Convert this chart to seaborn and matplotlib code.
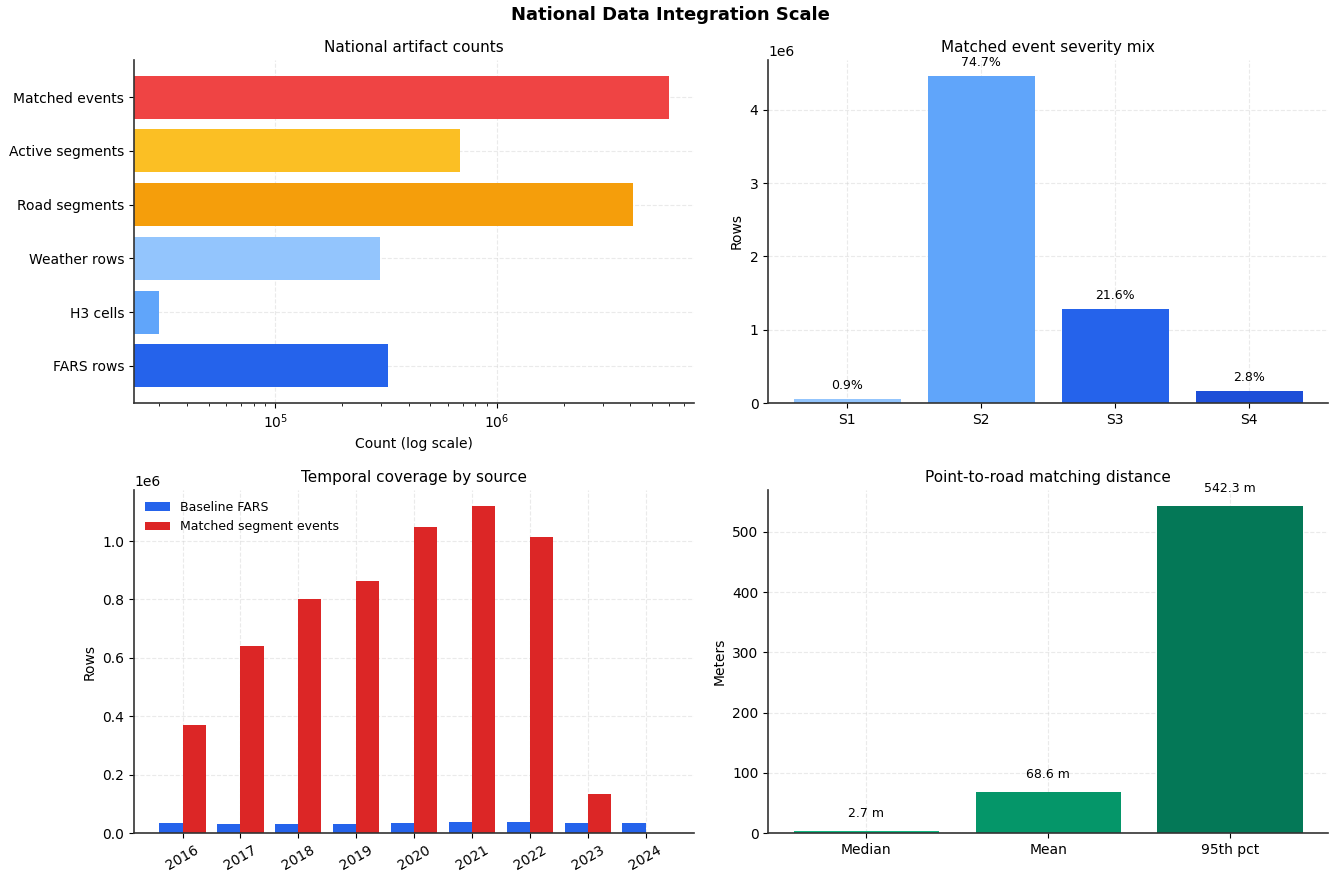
import matplotlib
matplotlib.use("Agg")
import matplotlib.pyplot as plt
import seaborn as sns
import pandas as pd
import numpy as np

# ---- data ----
artifact_labels = ["Matched events", "Active segments", "Road segments",
                   "Weather rows", "H3 cells", "FARS rows"]
artifact_counts = [5963700, 683000, 4110000, 297000, 30000, 323000]
artifact_colors = ["#ef4444", "#fbbf24", "#f59e0b", "#93c5fd", "#60a5fa", "#2563eb"]

severity_labels = ["S1", "S2", "S3", "S4"]
severity_counts = [53700, 4455000, 1288000, 167000]
severity_colors = ["#93c5fd", "#60a5fa", "#2563eb", "#1d4ed8"]

years = ["2016", "2017", "2018", "2019", "2020", "2021", "2022", "2023", "2024"]
fars_by_year = [35600, 32000, 32500, 32500, 35600, 39000, 39000, 35600, 35600]
matched_by_year = [370000, 642000, 800000, 862000, 1047000, 1119000, 1013000, 133000, 1500]
series_names = ["Baseline FARS", "Matched segment events"]
series_colors = ["#2563eb", "#dc2626"]

dist_labels = ["Median", "Mean", "95th pct"]
dist_values = [2.7, 68.6, 542.3]
dist_colors = ["#10b981", "#059669", "#047857"]

# ---- style ----
sns.set_theme(style="ticks")
plt.rcParams.update({
    "font.family": ["DejaVu Sans"],
    "font.size": 10,
    "axes.titlesize": 11,
    "axes.labelsize": 10,
    "xtick.labelsize": 10,
    "ytick.labelsize": 10,
    "legend.fontsize": 9,
    "axes.edgecolor": "#333333",
    "axes.linewidth": 1.2,
    "text.color": "black",
    "axes.labelcolor": "black",
    "xtick.color": "black",
    "ytick.color": "black",
    "axes.titlecolor": "black",
    "xtick.major.size": 3.5,
    "ytick.major.size": 3.5,
    "xtick.minor.size": 2,
    "ytick.minor.size": 2,
    "xtick.major.width": 0.8,
    "ytick.major.width": 0.8,
    "xtick.minor.width": 0.6,
    "xtick.major.pad": 3.5,
    "ytick.major.pad": 3.5,
})

fig, axes = plt.subplots(2, 2, figsize=(13.4, 8.73), dpi=100)
fig.subplots_adjust(left=0.1, right=0.9913, top=0.9313, bottom=0.0458,
                    wspace=0.1321, hspace=0.2536)

def style(ax):
    ax.grid(True, linestyle="--", color="#cccccc", alpha=0.4, linewidth=0.8)
    ax.set_axisbelow(True)
    sns.despine(ax=ax)

bar_kw = dict(saturation=1, width=0.8, edgecolor="none", linewidth=0)

# Top-left: artifact counts (log scale)
ax = axes[0, 0]
df1 = pd.DataFrame({"label": artifact_labels, "count": artifact_counts})
sns.barplot(data=df1, x="count", y="label", hue="label", palette=artifact_colors,
            legend=False, ax=ax, orient="h", **bar_kw)
ax.set_xscale("log")
n = len(artifact_labels)
ax.set_ylim(n - 1 + 0.4 + 0.29, -0.4 - 0.29)
ax.set_title("National artifact counts")
ax.set_xlabel("Count (log scale)")
ax.set_ylabel("")
style(ax)

# Top-right: severity mix
ax = axes[0, 1]
df2 = pd.DataFrame({"sev": severity_labels, "rows": severity_counts})
sns.barplot(data=df2, x="sev", y="rows", hue="sev", palette=severity_colors,
            legend=False, ax=ax, **bar_kw)
total = sum(severity_counts)
for cont in ax.containers:
    ax.bar_label(cont, labels=[f"{v / total * 100:.1f}%" for v in cont.datavalues],
                 padding=5, fontsize=9)
m = len(severity_labels)
span = (m - 1) + 0.8
ax.set_xlim(-0.4 - 0.05 * span, m - 1 + 0.4 + 0.05 * span)
ax.set_title("Matched event severity mix")
ax.set_xlabel("")
ax.set_ylabel("Rows")
style(ax)

# Bottom-left: temporal coverage
ax = axes[1, 0]
df3 = pd.DataFrame({
    "year": years * 2,
    "rows": fars_by_year + matched_by_year,
    "source": [series_names[0]] * len(years) + [series_names[1]] * len(years),
})
sns.barplot(data=df3, x="year", y="rows", hue="source", palette=series_colors,
            ax=ax, **bar_kw)
k = len(years)
span = (k - 1) + 0.8
ax.set_xlim(-0.4 - 0.05 * span, k - 1 + 0.4 + 0.05 * span)
ax.set_title("Temporal coverage by source")
ax.set_xlabel("")
ax.set_ylabel("Rows")
ax.tick_params(axis="x", rotation=30)
ax.legend(loc="upper left", frameon=False, title=None)
style(ax)

# Bottom-right: distances
ax = axes[1, 1]
df4 = pd.DataFrame({"stat": dist_labels, "m": dist_values})
sns.barplot(data=df4, x="stat", y="m", hue="stat", palette=dist_colors,
            legend=False, ax=ax, **bar_kw)
for cont in ax.containers:
    ax.bar_label(cont, labels=[f"{v:.1f} m" for v in cont.datavalues],
                 padding=8, fontsize=9)
d = len(dist_labels)
span = (d - 1) + 0.8
ax.set_xlim(-0.4 - 0.05 * span, d - 1 + 0.4 + 0.05 * span)
ax.set_title("Point-to-road matching distance")
ax.set_xlabel("")
ax.set_ylabel("Meters")
style(ax)

fig.suptitle("National Data Integration Scale", fontsize=13, fontweight="bold",
             y=0.983, va="center")
fig.savefig("out.png", dpi=100)
